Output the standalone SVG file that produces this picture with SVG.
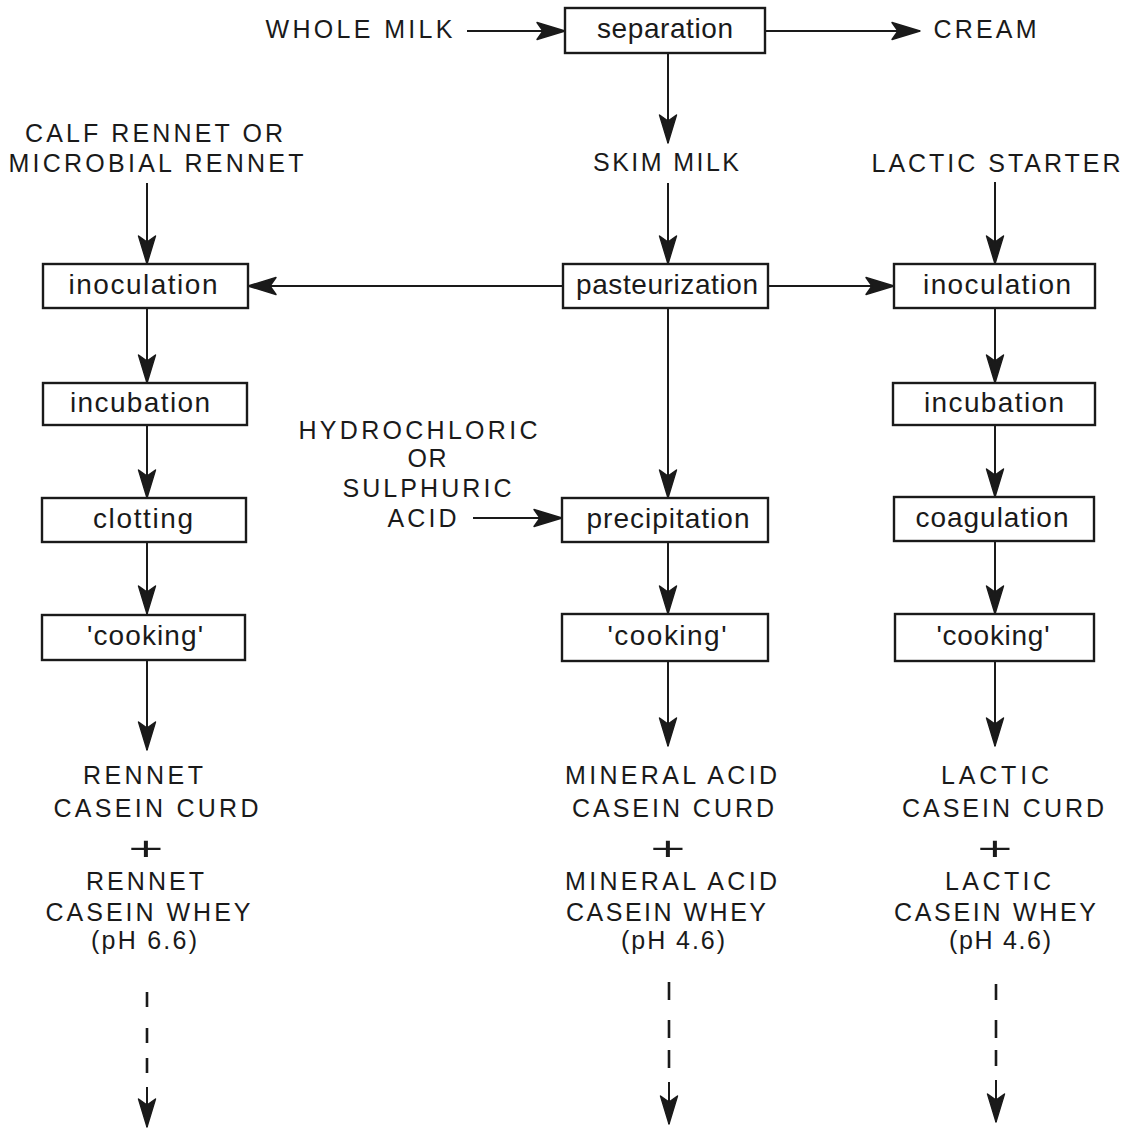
<svg xmlns="http://www.w3.org/2000/svg" width="1131" height="1128" viewBox="0 0 1131 1128">
<style>
.box{fill:#fff;stroke:#1a1a1a;stroke-width:2.4}
.ln{fill:none;stroke:#1a1a1a;stroke-width:2;marker-end:url(#ah)}
.dash{fill:none;stroke:#1a1a1a;stroke-width:2.6}
.t{font-family:"Liberation Sans",Arial,sans-serif;font-size:25px;fill:#1a1a1a;text-anchor:middle}
.b{font-family:"Liberation Sans",Arial,sans-serif;font-size:28px;fill:#1a1a1a;text-anchor:middle}
.p{font-family:Inter,"Liberation Sans",Arial,sans-serif;font-weight:300;font-size:36px;fill:#1a1a1a;text-anchor:middle}
</style>
<defs>
<marker id="ah" markerUnits="userSpaceOnUse" markerWidth="30" markerHeight="18" refX="28" refY="9" orient="auto" overflow="visible">
<path d="M28,9 L0,0.5 L6,9 L0,17.5 Z" fill="#1a1a1a" stroke="#1a1a1a" stroke-width="1.4" stroke-linejoin="round"/>
</marker>
</defs>
<rect width="1131" height="1128" fill="#fff"/>
<g id="connectors">
<line class="ln" x1="467" y1="31" x2="565" y2="31"/>
<line class="ln" x1="765" y1="31" x2="920" y2="31"/>
<line class="ln" x1="668" y1="53" x2="668" y2="143"/>
<line class="ln" x1="668" y1="183" x2="668" y2="264"/>
<line class="ln" x1="147" y1="183" x2="147" y2="264"/>
<line class="ln" x1="995" y1="182" x2="995" y2="264"/>
<line class="ln" x1="563" y1="286" x2="248" y2="286"/>
<line class="ln" x1="768" y1="286" x2="894" y2="286"/>
<line class="ln" x1="147" y1="308" x2="147" y2="383"/>
<line class="ln" x1="147" y1="425" x2="147" y2="498"/>
<line class="ln" x1="147" y1="542" x2="147" y2="614"/>
<line class="ln" x1="147" y1="660" x2="147" y2="750"/>
<line class="ln" x1="668" y1="308" x2="668" y2="498"/>
<line class="ln" x1="473" y1="518" x2="562" y2="518"/>
<line class="ln" x1="668" y1="542" x2="668" y2="614"/>
<line class="ln" x1="668" y1="661" x2="668" y2="746"/>
<line class="ln" x1="995" y1="308" x2="995" y2="383"/>
<line class="ln" x1="995" y1="425" x2="995" y2="497"/>
<line class="ln" x1="995" y1="541" x2="995" y2="614"/>
<line class="ln" x1="995" y1="661" x2="995" y2="746"/>
<path class="dash" d="M147,992 V1007 M147,1028 V1043 M147,1058 V1073"/>
<line class="ln" x1="147" y1="1087" x2="147" y2="1127"/>
<path class="dash" d="M669,982 V1000 M669,1020 V1038 M669,1050 V1068"/>
<line class="ln" x1="669" y1="1082" x2="669" y2="1124"/>
<path class="dash" d="M996,984 V1000 M996,1020 V1038 M996,1050 V1066"/>
<line class="ln" x1="996" y1="1080" x2="996" y2="1122"/>
</g>
<g id="whole-milk"><text class="t" x="359" y="38" textLength="187">WHOLE MILK</text></g>
<g id="separation"><rect class="box" x="565" y="8" width="200" height="45"/><text class="b" x="665" y="38" textLength="136">separation</text></g>
<g id="cream"><text class="t" x="985" y="38" textLength="103">CREAM</text></g>
<g id="rennet-input"><text class="t" x="154" y="142" textLength="258">CALF RENNET OR</text><text class="t" x="156" y="172" textLength="295">MICROBIAL RENNET</text></g>
<g id="skim-milk"><text class="t" x="666" y="171" textLength="146">SKIM MILK</text></g>
<g id="lactic-starter"><text class="t" x="996" y="172" textLength="249">LACTIC STARTER</text></g>
<g id="inoculation-l"><rect class="box" x="43" y="264" width="205" height="44"/><text class="b" x="143" y="294" textLength="149">inoculation</text></g>
<g id="pasteurization"><rect class="box" x="563" y="264" width="205" height="44"/><text class="b" x="667" y="294" textLength="182">pasteurization</text></g>
<g id="inoculation-r"><rect class="box" x="894" y="264" width="201" height="44"/><text class="b" x="997" y="294" textLength="148">inoculation</text></g>
<g id="incubation-l"><rect class="box" x="43" y="383" width="204" height="42"/><text class="b" x="140" y="412" textLength="140">incubation</text></g>
<g id="incubation-r"><rect class="box" x="893" y="383" width="202" height="42"/><text class="b" x="994" y="412" textLength="140">incubation</text></g>
<g id="acid-input"><text class="t" x="418" y="439" textLength="239">HYDROCHLORIC</text><text class="t" x="427" y="467" textLength="39">OR</text><text class="t" x="427" y="497" textLength="169">SULPHURIC</text><text class="t" x="422" y="527" textLength="69">ACID</text></g>
<g id="clotting"><rect class="box" x="42" y="498" width="204" height="44"/><text class="b" x="143" y="528" textLength="100">clotting</text></g>
<g id="precipitation"><rect class="box" x="562" y="498" width="206" height="44"/><text class="b" x="668" y="528" textLength="163">precipitation</text></g>
<g id="coagulation"><rect class="box" x="894" y="497" width="200" height="44"/><text class="b" x="992" y="527" textLength="153">coagulation</text></g>
<g id="cooking-l"><rect class="box" x="42" y="615" width="203" height="45"/><text class="b" x="145" y="645" textLength="116">'cooking'</text></g>
<g id="cooking-m"><rect class="box" x="562" y="614" width="206" height="47"/><text class="b" x="667" y="645" textLength="119">'cooking'</text></g>
<g id="cooking-r"><rect class="box" x="895" y="614" width="199" height="47"/><text class="b" x="993" y="645" textLength="113">'cooking'</text></g>
<g id="rennet-output">
<text class="t" x="143" y="784" textLength="120">RENNET</text>
<text class="t" x="156" y="817" textLength="205">CASEIN CURD</text>
<text class="p" x="0" y="859" transform="translate(146 0) scale(1.8 1)">+</text>
<text class="t" x="145" y="890" textLength="118">RENNET</text>
<text class="t" x="148" y="921" textLength="205">CASEIN WHEY</text>
<text class="t" x="144" y="949" textLength="106">(pH 6.6)</text>
</g>
<g id="mineral-output">
<text class="t" x="671" y="784" textLength="212">MINERAL ACID</text>
<text class="t" x="673" y="817" textLength="202">CASEIN CURD</text>
<text class="p" x="0" y="859" transform="translate(668 0) scale(1.8 1)">+</text>
<text class="t" x="671" y="890" textLength="212">MINERAL ACID</text>
<text class="t" x="666" y="921" textLength="200">CASEIN WHEY</text>
<text class="t" x="673" y="949" textLength="104">(pH 4.6)</text>
</g>
<g id="lactic-output">
<text class="t" x="995" y="784" textLength="108">LACTIC</text>
<text class="t" x="1003" y="817" textLength="202">CASEIN CURD</text>
<text class="p" x="0" y="859" transform="translate(995 0) scale(1.8 1)">+</text>
<text class="t" x="998" y="890" textLength="106">LACTIC</text>
<text class="t" x="995" y="921" textLength="202">CASEIN WHEY</text>
<text class="t" x="1000" y="949" textLength="102">(pH 4.6)</text>
</g>
</svg>
